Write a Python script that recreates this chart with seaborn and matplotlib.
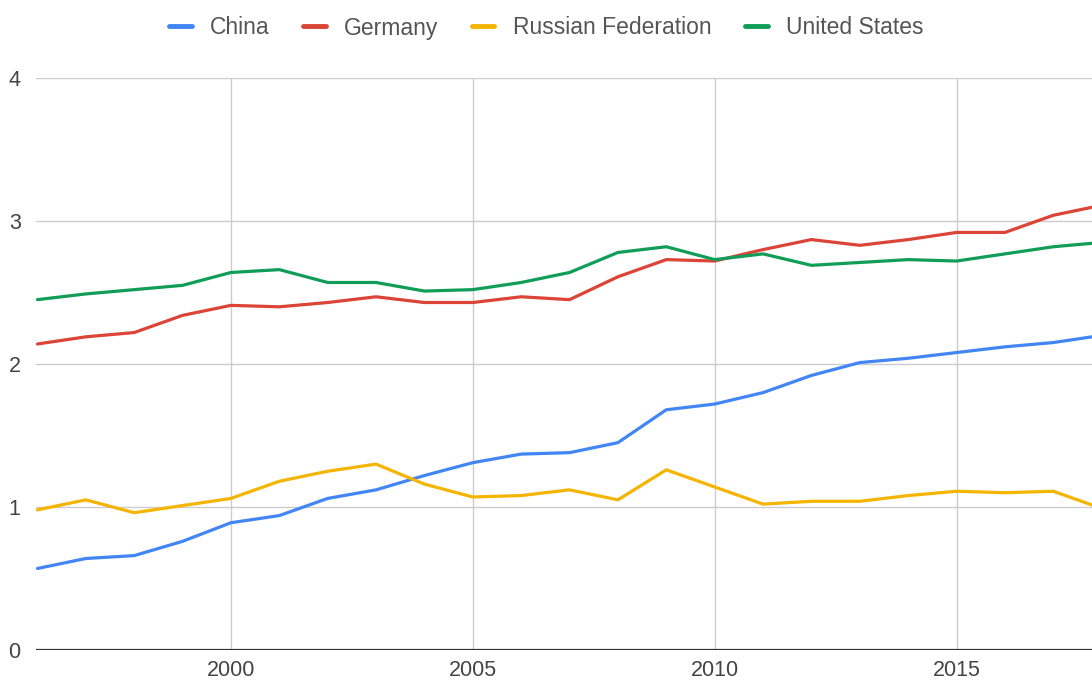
import numpy as np
import pandas as pd
import matplotlib
matplotlib.use("Agg")
import matplotlib.pyplot as plt
import seaborn as sns
from matplotlib.lines import Line2D

years = list(range(1996, 2019))
china = [0.57, 0.64, 0.66, 0.76, 0.89, 0.94, 1.06, 1.12, 1.22, 1.31, 1.37, 1.38, 1.45, 1.68, 1.72, 1.80, 1.92, 2.01, 2.04, 2.08, 2.12, 2.15, 2.20]
germany = [2.14, 2.19, 2.22, 2.34, 2.41, 2.40, 2.43, 2.47, 2.43, 2.43, 2.47, 2.45, 2.61, 2.73, 2.72, 2.80, 2.87, 2.83, 2.87, 2.92, 2.92, 3.04, 3.11]
russia = [0.98, 1.05, 0.96, 1.01, 1.06, 1.18, 1.25, 1.30, 1.16, 1.07, 1.08, 1.12, 1.05, 1.26, 1.14, 1.02, 1.04, 1.04, 1.08, 1.11, 1.10, 1.11, 0.99]
usa = [2.45, 2.49, 2.52, 2.55, 2.64, 2.66, 2.57, 2.57, 2.51, 2.52, 2.57, 2.64, 2.78, 2.82, 2.73, 2.77, 2.69, 2.71, 2.73, 2.72, 2.77, 2.82, 2.85]
countries = ["China", "Germany", "Russian Federation", "United States"]
colors = ["#4285F4", "#DB4437", "#F4B400", "#0F9D58"]
x_ticks = [2000, 2005, 2010, 2015]
y_ticks = [0, 1, 2, 3, 4]

series = dict(zip(countries, [china, germany, russia, usa]))
df = pd.concat([pd.DataFrame({"Year": years, "Value": v, "Country": k}) for k, v in series.items()])

sns.set_style("white")
plt.rcParams['font.family'] = ['Liberation Sans', 'DejaVu Sans']

fig = plt.figure(figsize=(10.92, 6.82), dpi=100)
ax = fig.add_axes([36/1092, 32/682, 1 - 36/1092, 572/682])

sns.lineplot(data=df, x="Year", y="Value", hue="Country", hue_order=countries,
             palette=dict(zip(countries, colors)), linewidth=2.3, ax=ax, legend=False)

ax.set_xlim(1995.97, 2017.8)
ax.set_ylim(0, 4)
ax.set_xticks(x_ticks)
ax.set_yticks(y_ticks)
ax.grid(True, color="#cccccc", linewidth=1)
ax.set_axisbelow(True)
for s in ax.spines.values():
    s.set_visible(False)
ax.axhline(0, color="#333333", linewidth=1.6, zorder=1)
ax.tick_params(axis="both", length=0, labelsize=15.5, colors="#444444")
ax.tick_params(axis="y", pad=11)
ax.tick_params(axis="x", pad=7)
ax.set_xlabel("")
ax.set_ylabel("")

handles = [Line2D([0], [0], color=c, linewidth=3.5, solid_capstyle="round") for c in colors]
fig.legend(handles, countries, loc="center", bbox_to_anchor=(0.5, 1 - 28/682), ncol=4,
           frameon=False, fontsize=16.5, handlelength=1.0, handletextpad=0.8, columnspacing=1.45,
           labelcolor="#555555")

fig.savefig("out.png", dpi=100)
